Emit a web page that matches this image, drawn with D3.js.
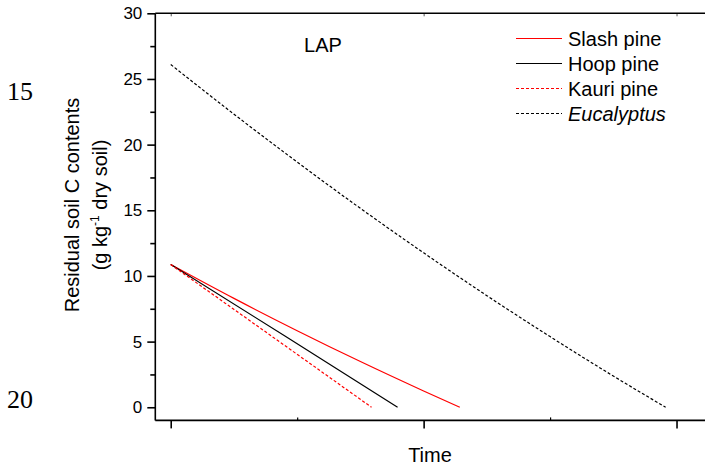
<!DOCTYPE html>
<html>
<head>
<meta charset="utf-8">
<script src="https://cdn.jsdelivr.net/npm/d3@7"></script>
<style>
  html, body { margin: 0; padding: 0; background: #fff; }
  svg { display: block; }
  text { fill: #000; }
</style>
</head>
<body>
<svg id="chart" width="705" height="468" font-family="Arial, 'Liberation Sans', sans-serif"></svg>
<script>
// ---- data ----
const seriesNames = ["Slash pine", "Hoop pine", "Kauri pine", "Eucalyptus"];
const slashTime = [0, 0.25, 0.5, 0.75, 1.0, 1.143];
const slashC    = [10.87, 8.29, 5.83, 3.48, 1.24, 0];
const hoopTime  = [0, 0.45, 0.897];
const hoopC     = [10.87, 5.45, 0];
const kauriTime = [0, 0.4, 0.794];
const kauriC    = [10.87, 5.4, 0];
const eucTime   = [0, 0.25, 0.5, 0.75, 1.0, 1.25, 1.5, 1.75, 1.957];
const eucC      = [26.1, 22.32, 18.67, 15.15, 11.76, 8.5, 5.38, 2.38, 0];
const yTicksMajor = [0, 5, 10, 15, 20, 25, 30];
const yTicksMinor = [2.5, 7.5, 12.5, 17.5, 22.5, 27.5];
const xTicksMajor = [0, 1, 2];
const xTicksMinor = [0.5, 1.5];
const panelLabel = "LAP";
const sideNumbers = ["15", "20"];

(function () {
const SANS = "Arial, 'Liberation Sans', sans-serif";
const SERIF = "'Liberation Serif', 'Times New Roman', serif";
// ---- scales ----
const svg = d3.select("#chart");
const x = d3.scaleLinear().domain([-0.061, 2.2]).range([155.3, 155.3 + 2.261 * 252.9]);
const y = d3.scaleLinear().domain([-1, 30]).range([420.4, 13.3]);

const styles = {
  "Slash pine": { color: "#ff0000", dash: null },
  "Hoop pine":  { color: "#000000", dash: null },
  "Kauri pine": { color: "#ff0000", dash: "3,2" },
  "Eucalyptus": { color: "#000000", dash: "3,2" }
};
const series = [
  { name: "Slash pine", t: slashTime, c: slashC },
  { name: "Hoop pine",  t: hoopTime,  c: hoopC },
  { name: "Kauri pine", t: kauriTime, c: kauriC },
  { name: "Eucalyptus", t: eucTime,   c: eucC }
];

// ---- axes ----
const leftX = 155.3, bottomY = y(-1), topY = y(30);
svg.append("g").attr("transform", `translate(${leftX},0)`)
  .call(d3.axisLeft(y).tickValues(yTicksMajor).tickSize(8).tickPadding(5).tickFormat(d3.format("d")))
  .call(g => g.select(".domain").remove())
  .call(g => g.selectAll("line").attr("stroke-width", 1.6))
  .call(g => g.selectAll("text").attr("font-size", 17).style("font-family", SANS));
svg.append("g").attr("transform", `translate(${leftX},0)`)
  .call(d3.axisLeft(y).tickValues(yTicksMinor).tickSize(5).tickFormat(""))
  .call(g => g.select(".domain").remove())
  .call(g => g.selectAll("line").attr("stroke-width", 1.6));
svg.append("g").attr("transform", `translate(0,${bottomY})`)
  .call(d3.axisBottom(x).tickValues(xTicksMajor).tickSize(8).tickFormat(""))
  .call(g => g.select(".domain").remove())
  .call(g => g.selectAll("line").attr("stroke-width", 1.6));
svg.append("g").attr("transform", `translate(0,${bottomY})`)
  .call(d3.axisTop(x).tickValues(xTicksMinor).tickSize(3).tickFormat(""))
  .call(g => g.select(".domain").remove())
  .call(g => g.selectAll("line").attr("stroke-width", 1.2));
svg.append("g").attr("transform", `translate(0,${topY})`)
  .call(d3.axisBottom(x).tickValues(xTicksMajor).tickSize(3).tickFormat(""))
  .call(g => g.select(".domain").remove())
  .call(g => g.selectAll("line").attr("stroke-width", 1).attr("stroke", "#555"));
const axisG = svg.append("g").attr("stroke", "#000").attr("stroke-width", 1.6);
axisG.append("line").attr("x1", leftX).attr("x2", leftX).attr("y1", topY).attr("y2", bottomY);
axisG.append("line").attr("x1", leftX).attr("x2", 705).attr("y1", bottomY).attr("y2", bottomY);
axisG.append("line").attr("x1", leftX).attr("x2", 705).attr("y1", topY).attr("y2", topY);

// ---- lines ----
const line = d3.line().x(d => x(d[0])).y(d => y(d[1])).curve(d3.curveMonotoneX);
series.forEach(s => {
  const pts = s.t.map((t, i) => [t, s.c[i]]);
  svg.append("path")
    .datum(pts)
    .attr("d", line)
    .attr("fill", "none")
    .attr("stroke", styles[s.name].color)
    .attr("stroke-width", 1.2)
    .attr("stroke-dasharray", styles[s.name].dash);
});

// ---- legend ----
const legendRows = [38.5, 63.5, 88.5, 113.5];
seriesNames.forEach((name, i) => {
  const g = svg.append("g");
  g.append("line").attr("x1", 516).attr("x2", 562)
    .attr("y1", legendRows[i]).attr("y2", legendRows[i])
    .attr("stroke", styles[name].color).attr("stroke-width", 1.2)
    .attr("stroke-dasharray", styles[name].dash);
  g.append("text").attr("x", 568).attr("y", legendRows[i] + 7)
    .attr("font-size", 20).style("font-family", SANS)
    .attr("font-style", name === "Eucalyptus" ? "italic" : "normal")
    .text(name);
});

// ---- labels ----
svg.append("text").attr("x", 323).attr("y", 52).attr("text-anchor", "middle")
  .attr("font-size", 20).style("font-family", SANS).text(panelLabel);

svg.append("text").attr("x", 430).attr("y", 462).attr("text-anchor", "middle")
  .attr("font-size", 20).style("font-family", SANS).text("Time");

const yl = svg.append("g").attr("transform", "translate(0,205) rotate(-90)");
yl.append("text").attr("x", 0).attr("y", 79).attr("text-anchor", "middle")
  .attr("font-size", 20).style("font-family", SANS).text("Residual soil C contents");
const t2 = yl.append("text").attr("x", 0).attr("y", 107).attr("text-anchor", "middle")
  .attr("font-size", 20).style("font-family", SANS);
t2.append("tspan").text("(g kg");
t2.append("tspan").attr("font-size", 12).attr("dy", -8).text("-1");
t2.append("tspan").attr("dy", 8).text(" dry soil)");

// side line numbers
svg.append("text").attr("x", 7).attr("y", 100).attr("font-size", 26)
  .style("font-family", SERIF).text(sideNumbers[0]);
svg.append("text").attr("x", 7).attr("y", 408).attr("font-size", 26)
  .style("font-family", SERIF).text(sideNumbers[1]);
})();
</script>
</body>
</html>
